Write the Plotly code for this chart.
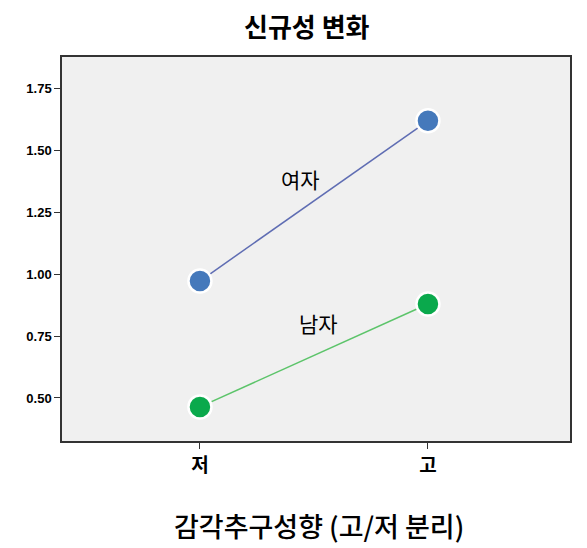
import plotly.graph_objects as go

categories = ["저", "고"]
female = [0.973, 1.621]
male = [0.464, 0.880]
series_labels = ["여자", "남자"]
tick_vals = [0.50, 0.75, 1.00, 1.25, 1.50, 1.75]
tick_text = ["0.50", "0.75", "1.00", "1.25", "1.50", "1.75"]
x_title = "감각추구성향 (고/저 분리)"
chart_title = "신규성 변화"

xpos = [0, 1]

fig = go.Figure()
fig.add_trace(go.Scatter(
    x=xpos, y=female, mode="lines+markers", name=series_labels[0],
    line=dict(color="#5f6db3", width=1.5),
    marker=dict(size=23, color="#4579bb", line=dict(color="white", width=2.5)),
))
fig.add_trace(go.Scatter(
    x=xpos, y=male, mode="lines+markers", name=series_labels[1],
    line=dict(color="#5cc46a", width=1.5),
    marker=dict(size=23, color="#0aa94c", line=dict(color="white", width=2.5)),
))

fig.add_annotation(x=0.44, y=1.385, text=series_labels[0], showarrow=False,
                   font=dict(size=21, color="black", family="Noto Sans CJK KR"))
fig.add_annotation(x=0.52, y=0.805, text=series_labels[1], showarrow=False,
                   font=dict(size=21, color="black", family="Noto Sans CJK KR"))
fig.add_annotation(x=0.506, y=-0.219, xref="paper", yref="paper", text=x_title,
                   showarrow=False, xanchor="center", yanchor="middle",
                   font=dict(size=27, color="black", family="Noto Sans CJK KR", weight=500))

fig.update_layout(
    width=579, height=540,
    margin=dict(l=54, r=17, t=49, b=107),
    paper_bgcolor="white",
    plot_bgcolor="#f0f0f0",
    showlegend=False,
    title=dict(text="<b>" + chart_title + "</b>", x=0.516, xanchor="center", y=0.964,
               yanchor="middle", yref="container",
               font=dict(size=26, color="black", family="Noto Sans CJK KR")),
    font=dict(family="Noto Sans CJK KR", color="black"),
)
fig.update_xaxes(
    range=[-0.605, 1.623], tickmode="array", tickvals=xpos,
    ticktext=["<b>" + c + "</b>" for c in categories],
    showgrid=False, zeroline=False, showline=True, linecolor="#333333", linewidth=1.5,
    mirror=True, ticks="outside", ticklen=6, tickcolor="#333333", automargin=False,
    tickfont=dict(size=19, family="Noto Sans CJK KR", color="black"),
)
fig.update_yaxes(
    range=[0.326, 1.879], tickmode="array", tickvals=tick_vals, ticktext=tick_text,
    showgrid=False, zeroline=False, showline=True, linecolor="#333333", linewidth=1.5,
    mirror=True, ticks="outside", ticklen=6, tickcolor="#333333", automargin=False,
    tickfont=dict(size=13, family="Liberation Sans", color="black", weight="bold"),
)

fig.write_html("out.html")
